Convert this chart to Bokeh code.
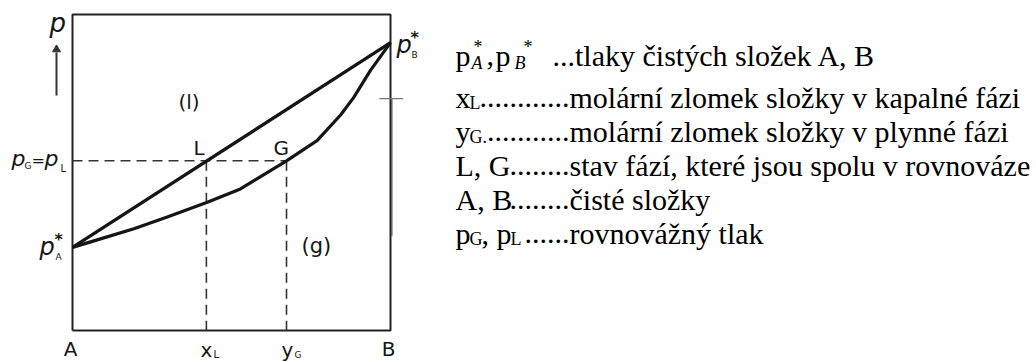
from bokeh.plotting import figure
from bokeh.models import Range1d
from bokeh.embed import file_html
from bokeh.resources import INLINE
from bokeh.core.properties import value

# Liquid-vapour equilibrium of an ideal binary mixture A-B at constant T.
# Composition = mole fraction of B (0 = pure A, 1 = pure B), pressure scaled 0..1.
p_A_star = 0.263
p_B_star = 0.911

# liquid (bubble-point) line
liquid_x = [0.0, 1.0]
liquid_p = [0.263, 0.911]

# vapour (dew-point) curve
vapour_x = [0.0, 0.088, 0.193, 0.298, 0.424, 0.528, 0.673, 0.769, 0.843, 0.884, 0.937, 1.0]
vapour_p = [0.263, 0.290, 0.322, 0.359, 0.406, 0.448, 0.537, 0.601, 0.682, 0.737, 0.823, 0.911]

# tie line L-G at the equilibrium pressure
x_L = 0.421
y_G = 0.673
p_eq = 0.537

# small mark on the right edge and the worn stretch of that edge below it
mark_p = 0.734
worn_edge_p = [0.734, 0.30]

# legend lines on the right
legend_lines = [
    "...tlaky čistých složek A, B",
    "molární zlomek složky v kapalné fázi",
    "molární zlomek složky v plynné fázi",
    "stav fází, které jsou spolu v rovnováze",
    "čisté složky",
    "rovnovážný tlak",
]

W, H = 1036, 362
# page layout: box left/right and bottom/top in pixels
X0, XS = 72.0, 318.0
Y0, YS = 330.0, 316.0


def dx(px):
    return (px - X0) / XS


def dy(py):
    return (Y0 - py) / YS


p = figure(width=W, height=H, output_backend="svg", toolbar_location=None,
           x_range=Range1d(dx(0), dx(W)), y_range=Range1d(dy(H), dy(0)),
           x_axis_location=None, y_axis_location=None, min_border=0,
           outline_line_color=None, background_fill_color="white",
           border_fill_color="white")
p.xgrid.visible = False
p.ygrid.visible = False

INK = "#151515"


def put(px, py, s, size, font="DejaVu Sans", style="normal", align="left",
        color=INK):
    # py is the wanted baseline; shift up for the renderer's line box
    py = py - 0.28 * size
    p.text(x=[dx(px)], y=[dy(py)], text=[s], text_font=value(font),
           text_font_size=f"{size}px", text_font_style=style,
           text_align=align, text_baseline="alphabetic", text_color=color)


# worn grey stretch under the right edge
p.line([1.003, 1.003], worn_edge_p, line_color="#a6a6a6", line_width=3)

# frame of the diagram
p.line([0, 1, 1, 0, 0], [0, 0, 1, 1, 0], line_color="#222222", line_width=2)

# tie line and the compositions read on it
p.line([0, y_G], [p_eq, p_eq], line_color="#333333", line_width=1.6,
       line_dash="10 6")
p.line([x_L, x_L], [p_eq, 0], line_color="#333333", line_width=1.6,
       line_dash="10 6")
p.line([y_G, y_G], [p_eq, 0], line_color="#333333", line_width=1.6,
       line_dash="10 6")

# equilibrium curves
p.line(liquid_x, liquid_p, line_color=INK, line_width=3.2)
p.line(vapour_x, vapour_p, line_color=INK, line_width=3.2)

p.segment(x0=[0.965], y0=[mark_p], x1=[1.04], y1=[mark_p],
          line_color="#777777", line_width=1.2)

# pressure arrow
p.segment(x0=[dx(56)], y0=[dy(95)], x1=[dx(56)], y1=[dy(52)],
          line_color="#333333", line_width=2)
p.scatter(x=[dx(56)], y=[dy(49)], marker="triangle", size=8,
          fill_color="#333333", line_color="#333333")
put(49, 30, "p", 26, style="italic")

# diagram labels
put(178, 107, "(l)", 20)
put(301, 251, "(g)", 21)
put(X0 + x_L * XS - 13, 153, "L", 20)
put(X0 + y_G * XS - 13, 153, "G", 20)

put(70, 354, "A", 20, align="center")
put(388, 354, "B", 20, align="center")
put(X0 + x_L * XS, 355, "x", 20, align="center")
put(X0 + x_L * XS + 7, 357, "L", 10)
put(X0 + y_G * XS + 1, 355, "y", 20, align="center")
put(X0 + y_G * XS + 8, 357, "G", 9)

# pure-component pressures
put(396, 51, "p", 24, style="italic")
put(410, 41, "*", 16, style="bold")
put(411, 57, "B", 9)
put(39, 253, "p", 24, style="italic")
put(54, 243, "*", 16, style="bold")
put(55, 259, "A", 9)

# equilibrium pressure on the left edge
put(11, 164, "p", 22, style="italic")
put(24, 168, "G", 9)
put(31, 164, "=", 16)
put(44, 164, "p", 22, style="italic")
put(60, 171, "L", 10)

# legend
SERIF = "Liberation Serif"
FS = 30
SUB = 18
TX = 455
DX = 569
base = [63, 105, 139, 173, 207, 241]

# line 1: p*_A , p*_B
put(TX, base[0], "p", FS, font=SERIF, color="black")
put(471, base[0] + 5, "A", SUB, font=SERIF, style="italic", color="black")
put(473, base[0] - 11, "*", SUB, font=SERIF, color="black")
put(486, base[0], ",", FS, font=SERIF, color="black")
put(495, base[0], "p", FS, font=SERIF, color="black")
put(514, base[0] + 5, "B", SUB, font=SERIF, style="italic", color="black")
put(523, base[0] - 11, "*", SUB, font=SERIF, color="black")
put(552, base[0], legend_lines[0], FS, font=SERIF, color="black")

# line 2: x_L
put(TX, base[1], "x", FS, font=SERIF, color="black")
put(469, base[1] + 3, "L", SUB, font=SERIF, color="black")
put(DX, base[1], "." * 12, FS, font=SERIF, align="right", color="black")
put(DX, base[1], legend_lines[1], FS, font=SERIF, color="black")

# line 3: y_G
put(TX, base[2], "y", FS, font=SERIF, color="black")
put(469, base[2] + 3, "G.", SUB, font=SERIF, color="black")
put(DX, base[2], "." * 11, FS, font=SERIF, align="right", color="black")
put(DX, base[2], legend_lines[2], FS, font=SERIF, color="black")

# line 4: L, G
put(TX, base[3], "L, G", FS, font=SERIF, color="black")
put(DX, base[3], "." * 8, FS, font=SERIF, align="right", color="black")
put(DX, base[3], legend_lines[3], FS, font=SERIF, color="black")

# line 5: A, B
put(TX, base[4], "A, B", FS, font=SERIF, color="black")
put(DX, base[4], "." * 8, FS, font=SERIF, align="right", color="black")
put(DX, base[4], legend_lines[4], FS, font=SERIF, color="black")

# line 6: p_G, p_L
put(TX, base[5], "p", FS, font=SERIF, color="black")
put(469, base[5] + 3, "G", SUB, font=SERIF, color="black")
put(481, base[5], ", p", FS, font=SERIF, color="black")
put(510, base[5] + 3, "L", SUB, font=SERIF, color="black")
put(DX, base[5], "." * 6, FS, font=SERIF, align="right", color="black")
put(DX, base[5], legend_lines[5], FS, font=SERIF, color="black")

open("out.html", "w").write(file_html(p, INLINE))
